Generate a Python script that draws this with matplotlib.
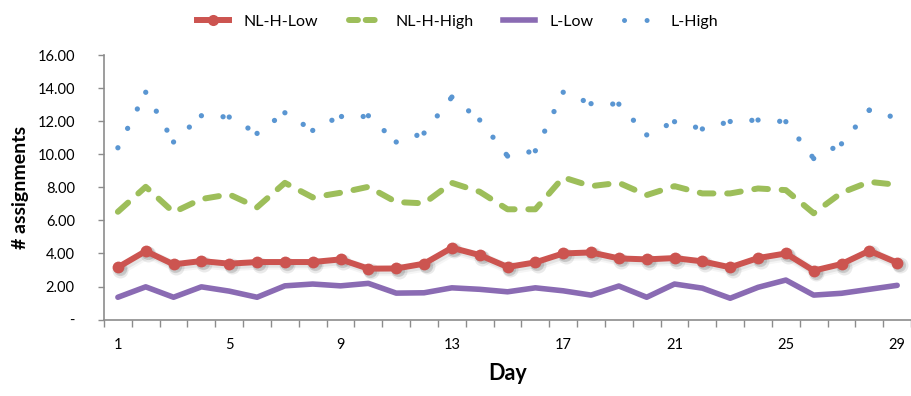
import numpy as np
import matplotlib
matplotlib.use("Agg")
import matplotlib.pyplot as plt
from matplotlib.lines import Line2D
from matplotlib.transforms import ScaledTranslation

plt.rcParams['font.family'] = ['Lato', 'DejaVu Sans']

# Data
days = list(range(1, 30))
nlh_low = [3.16, 4.14, 3.34, 3.54, 3.38, 3.48, 3.48, 3.48, 3.64, 3.08,
           3.09, 3.38, 4.34, 3.90, 3.18, 3.46, 4.00, 4.06, 3.70, 3.64,
           3.72, 3.52, 3.16, 3.72, 4.00, 2.96, 3.36, 4.16, 3.44]
nlh_high = [6.52, 8.03, 6.49, 7.29, 7.57, 6.79, 8.27, 7.39, 7.67, 8.03,
            7.11, 7.03, 8.27, 7.73, 6.67, 6.67, 8.60, 8.07, 8.27, 7.53,
            8.07, 7.63, 7.63, 7.93, 7.83, 6.43, 7.67, 8.33, 8.15]
l_low = [1.35, 1.98, 1.35, 1.98, 1.72, 1.35, 2.04, 2.15, 2.04, 2.19,
         1.60, 1.62, 1.92, 1.83, 1.68, 1.92, 1.74, 1.48, 2.03, 1.35,
         2.15, 1.90, 1.29, 1.95, 2.39, 1.48, 1.59, 1.83, 2.07]
l_high = [10.39, 13.75, 10.74, 12.33, 12.25, 11.26, 12.51, 11.44, 12.33, 12.33,
          10.74, 11.28, 13.46, 12.07, 9.89, 10.21, 13.75, 13.06, 13.03, 11.17,
          11.97, 11.53, 11.98, 12.07, 11.97, 9.74, 10.63, 12.67, 12.18]
xtick_days = [1, 5, 9, 13, 17, 21, 25, 29]
yticks = [0, 2, 4, 6, 8, 10, 12, 14, 16]

c_red = '#CC5450'
c_green = '#9DBE5A'
c_purple = '#8A6BB3'
c_blue = '#5A96D2'
c_axis = '#8C8C8C'

fig = plt.figure(figsize=(9.12, 3.96), dpi=100)
ax = fig.add_axes([0.114, 0.193, 0.885, 0.668])

# blue dotted line, pattern restarting on each segment like Excel does
for i in range(len(days) - 1):
    ax.plot(days[i:i + 2], l_high[i:i + 2], color=c_blue, lw=3.8,
            dashes=(0.01, 4.1), dash_capstyle='round', zorder=3)

ax.plot(days, nlh_high, color=c_green, lw=4.3, dashes=(2.3, 2.3),
        dash_capstyle='round', solid_joinstyle='round', zorder=3)

ax.plot(days, l_low, color=c_purple, lw=4.0, solid_joinstyle='round',
        solid_capstyle='round', zorder=3)

# soft shadow under the red markers
for off, a, extra in [(1.8, 0.12, 3.0), (1.4, 0.2, 1.0)]:
    sh = ScaledTranslation(off / 72, -off / 72, fig.dpi_scale_trans)
    ax.plot(days, nlh_low, color='#555555', alpha=a, lw=0,
            marker='o', ms=8.5 + extra, mec='none',
            transform=ax.transData + sh, zorder=3.5)
    ax.plot(days, nlh_low, color='#555555', alpha=a * 0.5, lw=4.3 + extra,
            transform=ax.transData + sh, zorder=3.5,
            solid_joinstyle='round', solid_capstyle='round')
ax.plot(days, nlh_low, color=c_red, lw=4.3, marker='o', ms=8.5, mec='none',
        solid_joinstyle='round', solid_capstyle='round', zorder=4)

ax.set_xlim(0.5, 29.5)
ax.set_ylim(0, 16)

ax.set_xticks(np.arange(0.5, 30, 1))
ax.set_xticklabels([])
ax.set_xticks(xtick_days, minor=True)
ax.set_xticklabels([str(d) for d in xtick_days], minor=True)
ax.tick_params(axis='x', which='major', length=5, width=1, color=c_axis,
               direction='out')
ax.tick_params(axis='x', which='minor', length=0, pad=13, labelsize=10.5)

ax.set_yticks(yticks)
ax.set_yticklabels(['-' if v == 0 else f'{v:.2f}' for v in yticks])
ax.tick_params(axis='y', length=4, width=1, color=c_axis, direction='out',
               pad=17, labelsize=10.5)

for s in ['top', 'right']:
    ax.spines[s].set_visible(False)
for s in ['left', 'bottom']:
    ax.spines[s].set_color(c_axis)
    ax.spines[s].set_linewidth(1.2)

ax.set_xlabel('Day', fontsize=15.5, fontweight='bold', labelpad=8)
ax.set_ylabel('# assignments', fontsize=14, fontweight='bold', labelpad=6)

handles = [
    Line2D([], [], color=c_red, lw=4.3, marker='o', ms=8, mec='none'),
    Line2D([], [], color=c_green, lw=4.3, dashes=(1.5, 1.3),
           dash_capstyle='round'),
    Line2D([], [], color=c_purple, lw=4.0),
    Line2D([], [], color=c_blue, lw=3.6, dashes=(0.01, 4.5),
           dash_capstyle='round'),
]
labels = ['NL-H-Low', 'NL-H-High', 'L-Low', 'L-High']
fig.legend(handles, labels, loc='upper center', bbox_to_anchor=(0.502, 1.0),
           ncol=4, frameon=False, fontsize=11.5, handlelength=2.0,
           handletextpad=0.9, columnspacing=1.9)

fig.savefig('out.png', dpi=100)
